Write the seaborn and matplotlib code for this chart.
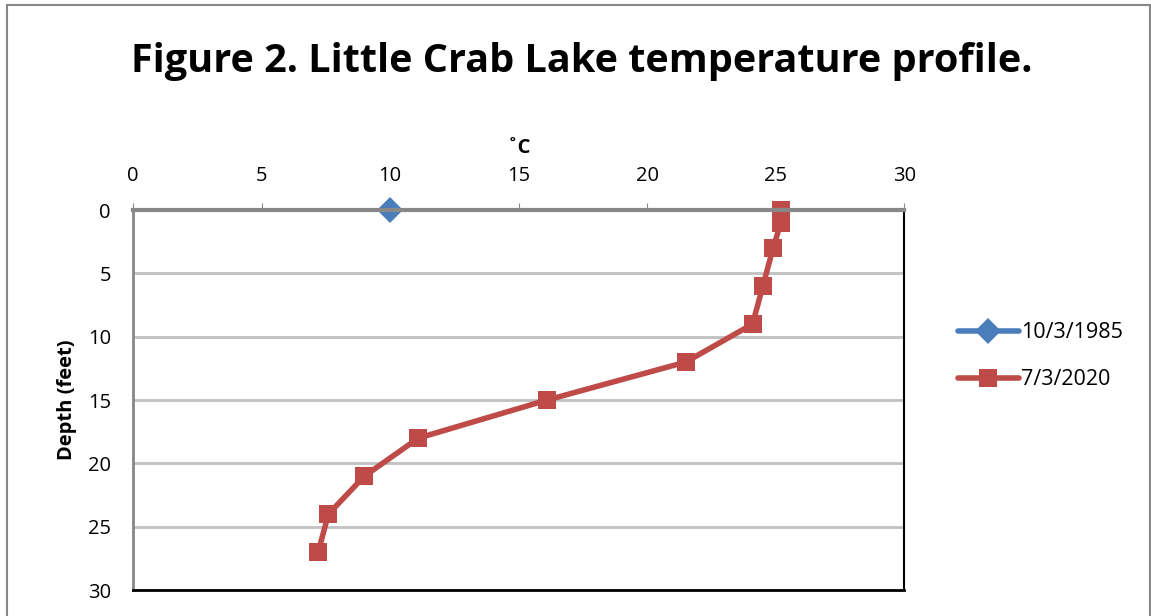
import matplotlib
matplotlib.use("Agg")
import matplotlib.pyplot as plt
import pandas as pd
import seaborn as sns
from matplotlib.patches import Rectangle

# Temperature profiles (deg C) by depth (feet)
depth_1985 = [0]
temp_1985 = [10.0]

depth_2020 = [0, 1, 3, 6, 9, 12, 15, 18, 21, 24, 27]
temp_2020 = [25.2, 25.2, 24.9, 24.5, 24.1, 21.5, 16.1, 11.1, 9.0, 7.6, 7.2]

labels = ["10/3/1985", "7/3/2020"]
x_ticks = [0, 5, 10, 15, 20, 25, 30]
y_ticks = [0, 5, 10, 15, 20, 25, 30]

df = pd.concat([
    pd.DataFrame({"temp": temp_1985, "depth": depth_1985, "series": labels[0]}),
    pd.DataFrame({"temp": temp_2020, "depth": depth_2020, "series": labels[1]}),
])

sns.set_style("white")
plt.rcParams["font.family"] = ["Open Sans", "DejaVu Sans"]
plt.rcParams["text.color"] = "black"
plt.rcParams["axes.labelcolor"] = "black"
plt.rcParams["xtick.labelcolor"] = "black"
plt.rcParams["ytick.labelcolor"] = "black"

fig = plt.figure(figsize=(11.51, 6.16), dpi=100)
ax = fig.add_axes([0.1156, 0.042, 0.67, 0.617])

blue = "#4a7ebb"
red = "#be4b48"
sns.lineplot(data=df, x="temp", y="depth", hue="series", style="series",
             palette=[blue, red], markers=["D", "s"], dashes=False,
             sort=False, estimator=None, linewidth=4, markersize=13,
             markeredgewidth=0, clip_on=False, ax=ax)

ax.set_xlim(0, 30)
ax.set_ylim(30, 0)
ax.set_xticks(x_ticks)
ax.set_yticks(y_ticks)
ax.xaxis.tick_top()
ax.xaxis.set_label_position("top")
ax.tick_params(axis="x", direction="out", length=5, color="#888888",
               labelsize=14.5, pad=12)
ax.tick_params(axis="y", direction="out", length=6, color="#888888",
               labelsize=14.5, pad=10)
ax.yaxis.grid(True, color="#c0c0c0", linewidth=2)
ax.set_axisbelow(True)

ax.spines["top"].set_color("#888888")
ax.spines["top"].set_linewidth(3)
ax.spines["left"].set_color("#888888")
ax.spines["left"].set_linewidth(2)
ax.spines["bottom"].set_color("black")
ax.spines["bottom"].set_linewidth(2)
ax.spines["right"].set_color("black")
ax.spines["right"].set_linewidth(1.5)

ax.set_xlabel("˚C", fontsize=14.5, fontweight="bold", labelpad=10)
ax.set_ylabel("Depth (feet)", fontsize=14.5, fontweight="bold", labelpad=8)

fig.suptitle("Figure 2. Little Crab Lake temperature profile.",
             x=0.505, y=0.932, fontsize=28.5, fontweight="bold")

leg = ax.legend(loc="center left", bbox_to_anchor=(1.045, 0.615), frameon=False,
                fontsize=15.5, handlelength=2.8, labelspacing=1.2,
                handletextpad=0.1)

fig.patches.append(Rectangle((0.006, -0.1), 0.993, 1.092, transform=fig.transFigure,
                             fill=False, edgecolor="#888888", linewidth=1.5))

fig.savefig("out.png", dpi=100)
